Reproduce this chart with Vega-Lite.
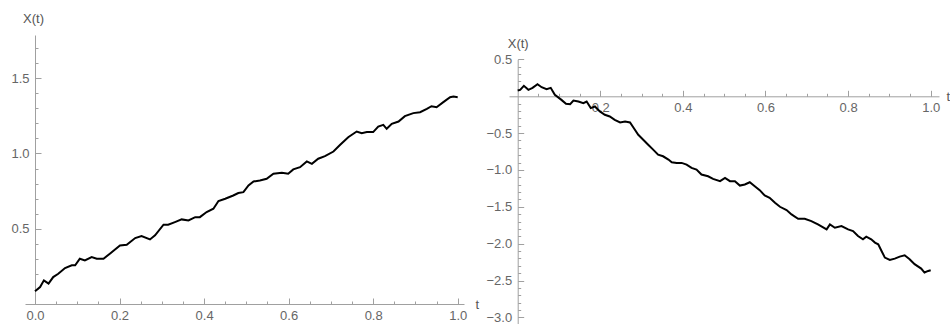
{
  "$schema": "https://vega.github.io/schema/vega-lite/v6.json",
  "padding": {"left": 10, "top": 12, "right": 0, "bottom": 0},
  "background": "white",
  "spacing": 7,
  "config": {
    "view": {"stroke": null},
    "axis": {"grid": false, "labelFont": "Liberation Sans", "labelFontSize": 13, "labelColor": "#666666", "titleFont": "Liberation Sans", "titleFontSize": 13, "titleFontWeight": "normal", "titleColor": "#555555", "domainColor": "#a0a0a0", "tickColor": "#a0a0a0", "labelOverlap": false, "labelFlush": false}
  },
  "datasets": {
    "left": [
      {"t": 0, "x": 0.084}, {"t": 0.012, "x": 0.113}, {"t": 0.021, "x": 0.157}, {"t": 0.032, "x": 0.135},
      {"t": 0.043, "x": 0.179}, {"t": 0.055, "x": 0.201}, {"t": 0.071, "x": 0.239}, {"t": 0.087, "x": 0.257},
      {"t": 0.095, "x": 0.257}, {"t": 0.106, "x": 0.301}, {"t": 0.118, "x": 0.29}, {"t": 0.134, "x": 0.312},
      {"t": 0.146, "x": 0.301}, {"t": 0.162, "x": 0.301}, {"t": 0.177, "x": 0.334}, {"t": 0.201, "x": 0.389},
      {"t": 0.217, "x": 0.394}, {"t": 0.237, "x": 0.438}, {"t": 0.252, "x": 0.451}, {"t": 0.272, "x": 0.429},
      {"t": 0.284, "x": 0.456}, {"t": 0.304, "x": 0.527}, {"t": 0.315, "x": 0.527}, {"t": 0.331, "x": 0.544},
      {"t": 0.347, "x": 0.562}, {"t": 0.363, "x": 0.555}, {"t": 0.379, "x": 0.577}, {"t": 0.39, "x": 0.577},
      {"t": 0.406, "x": 0.611}, {"t": 0.422, "x": 0.633}, {"t": 0.434, "x": 0.684}, {"t": 0.45, "x": 0.699},
      {"t": 0.469, "x": 0.721}, {"t": 0.481, "x": 0.737}, {"t": 0.493, "x": 0.743}, {"t": 0.505, "x": 0.788},
      {"t": 0.517, "x": 0.814}, {"t": 0.532, "x": 0.821}, {"t": 0.548, "x": 0.832}, {"t": 0.564, "x": 0.865},
      {"t": 0.584, "x": 0.872}, {"t": 0.599, "x": 0.865}, {"t": 0.611, "x": 0.894}, {"t": 0.627, "x": 0.909},
      {"t": 0.643, "x": 0.947}, {"t": 0.655, "x": 0.931}, {"t": 0.67, "x": 0.965}, {"t": 0.686, "x": 0.982},
      {"t": 0.706, "x": 1.013}, {"t": 0.722, "x": 1.058}, {"t": 0.741, "x": 1.108}, {"t": 0.761, "x": 1.146},
      {"t": 0.773, "x": 1.135}, {"t": 0.785, "x": 1.142}, {"t": 0.8, "x": 1.142}, {"t": 0.812, "x": 1.179},
      {"t": 0.824, "x": 1.19}, {"t": 0.832, "x": 1.164}, {"t": 0.844, "x": 1.197}, {"t": 0.86, "x": 1.212},
      {"t": 0.875, "x": 1.248}, {"t": 0.895, "x": 1.268}, {"t": 0.911, "x": 1.274}, {"t": 0.927, "x": 1.296},
      {"t": 0.938, "x": 1.314}, {"t": 0.95, "x": 1.307}, {"t": 0.966, "x": 1.341}, {"t": 0.982, "x": 1.374},
      {"t": 0.99, "x": 1.378}, {"t": 1.0, "x": 1.374}
    ],
    "right": [
      {"t": 0, "x": 0.077}, {"t": 0.006, "x": 0.086}, {"t": 0.015, "x": 0.14}, {"t": 0.026, "x": 0.086},
      {"t": 0.036, "x": 0.113}, {"t": 0.048, "x": 0.162}, {"t": 0.058, "x": 0.122}, {"t": 0.07, "x": 0.095},
      {"t": 0.08, "x": 0.113}, {"t": 0.09, "x": 0.018}, {"t": 0.106, "x": -0.05}, {"t": 0.117, "x": -0.104},
      {"t": 0.127, "x": -0.108}, {"t": 0.135, "x": -0.059}, {"t": 0.147, "x": -0.072}, {"t": 0.159, "x": -0.095},
      {"t": 0.167, "x": -0.072}, {"t": 0.177, "x": -0.162}, {"t": 0.187, "x": -0.14}, {"t": 0.199, "x": -0.207},
      {"t": 0.211, "x": -0.252}, {"t": 0.223, "x": -0.275}, {"t": 0.235, "x": -0.32}, {"t": 0.248, "x": -0.356},
      {"t": 0.26, "x": -0.342}, {"t": 0.272, "x": -0.356}, {"t": 0.281, "x": -0.432}, {"t": 0.292, "x": -0.523},
      {"t": 0.304, "x": -0.59}, {"t": 0.316, "x": -0.658}, {"t": 0.328, "x": -0.725}, {"t": 0.34, "x": -0.793},
      {"t": 0.352, "x": -0.815}, {"t": 0.365, "x": -0.86}, {"t": 0.373, "x": -0.896}, {"t": 0.385, "x": -0.905},
      {"t": 0.397, "x": -0.905}, {"t": 0.409, "x": -0.928}, {"t": 0.421, "x": -0.973}, {"t": 0.433, "x": -0.995},
      {"t": 0.445, "x": -1.063}, {"t": 0.461, "x": -1.086}, {"t": 0.473, "x": -1.122}, {"t": 0.49, "x": -1.153},
      {"t": 0.502, "x": -1.108}, {"t": 0.514, "x": -1.153}, {"t": 0.526, "x": -1.153}, {"t": 0.538, "x": -1.212},
      {"t": 0.55, "x": -1.198}, {"t": 0.562, "x": -1.167}, {"t": 0.574, "x": -1.221}, {"t": 0.586, "x": -1.275},
      {"t": 0.598, "x": -1.347}, {"t": 0.61, "x": -1.378}, {"t": 0.623, "x": -1.446}, {"t": 0.635, "x": -1.5},
      {"t": 0.651, "x": -1.545}, {"t": 0.663, "x": -1.604}, {"t": 0.679, "x": -1.662}, {"t": 0.695, "x": -1.662},
      {"t": 0.711, "x": -1.694}, {"t": 0.727, "x": -1.739}, {"t": 0.748, "x": -1.806}, {"t": 0.756, "x": -1.739},
      {"t": 0.768, "x": -1.784}, {"t": 0.784, "x": -1.761}, {"t": 0.8, "x": -1.806}, {"t": 0.812, "x": -1.829},
      {"t": 0.824, "x": -1.896}, {"t": 0.836, "x": -1.941}, {"t": 0.844, "x": -1.905}, {"t": 0.856, "x": -1.941},
      {"t": 0.865, "x": -1.986}, {"t": 0.873, "x": -2.009}, {"t": 0.881, "x": -2.099}, {"t": 0.889, "x": -2.189},
      {"t": 0.901, "x": -2.221}, {"t": 0.913, "x": -2.203}, {"t": 0.925, "x": -2.176}, {"t": 0.937, "x": -2.158},
      {"t": 0.949, "x": -2.212}, {"t": 0.961, "x": -2.279}, {"t": 0.977, "x": -2.338}, {"t": 0.985, "x": -2.392},
      {"t": 0.994, "x": -2.37}, {"t": 1.0, "x": -2.36}
    ]
  },
  "hconcat": [
    {
      "width": 439,
      "height": 269,
      "data": {"name": "left"},
      "mark": {"type": "line", "color": "black", "strokeWidth": 2},
      "encoding": {
        "x": {
          "field": "t", "type": "quantitative",
          "scale": {"domain": [-0.0237, 1.0149], "nice": false, "zero": false},
          "axis": {
            "orient": "bottom",
            "values": [0, 0.05, 0.1, 0.15, 0.2, 0.25, 0.3, 0.35, 0.4, 0.45, 0.5, 0.55, 0.6, 0.65, 0.7, 0.75, 0.8, 0.85, 0.9, 0.95, 1.0],
            "tickSize": {"condition": {"test": "abs(datum.value*5-round(datum.value*5))<0.001", "value": -6}, "value": -3},
            "labelExpr": "abs(datum.value*5-round(datum.value*5))<0.001 ? format(datum.value, '.1f') : ''",
            "labelPadding": 11,
            "title": "t", "titleX": 450, "titleY": 4, "titleAlign": "left", "titleBaseline": "alphabetic", "titleAngle": 0
          }
        },
        "y": {
          "field": "x", "type": "quantitative",
          "scale": {"domain": [0, 1.787], "nice": false, "zero": false},
          "axis": {
            "orient": "left",
            "offset": -10,
            "values": [0.1, 0.2, 0.3, 0.4, 0.5, 0.6, 0.7, 0.8, 0.9, 1.0, 1.1, 1.2, 1.3, 1.4, 1.5, 1.6, 1.7],
            "tickSize": {"condition": {"test": "abs(datum.value*2-round(datum.value*2))<0.001", "value": -6}, "value": -3},
            "labelExpr": "abs(datum.value*2-round(datum.value*2))<0.001 ? format(datum.value, '.1f') : ''",
            "labelPadding": 12,
            "title": "X(t)", "titleX": -2, "titleY": -13, "titleAlign": "center", "titleBaseline": "alphabetic", "titleAngle": 0
          }
        }
      }
    },
    {
      "width": 430,
      "height": 289,
      "data": {"name": "right"},
      "mark": {"type": "line", "color": "black", "strokeWidth": 2},
      "encoding": {
        "x": {
          "field": "t", "type": "quantitative",
          "scale": {"domain": [-0.021, 1.0201], "nice": false, "zero": false},
          "axis": {
            "orient": "bottom",
            "offset": -227.7,
            "values": [0.05, 0.1, 0.15, 0.2, 0.25, 0.3, 0.35, 0.4, 0.45, 0.5, 0.55, 0.6, 0.65, 0.7, 0.75, 0.8, 0.85, 0.9, 0.95, 1.0],
            "tickSize": {"condition": {"test": "abs(datum.value*5-round(datum.value*5))<0.001", "value": -6}, "value": -3},
            "labelExpr": "abs(datum.value*5-round(datum.value*5))<0.001 ? format(datum.value, '.1f') : ''",
            "labelPadding": 11,
            "title": "t", "titleX": 437, "titleY": 4, "titleAlign": "left", "titleBaseline": "alphabetic", "titleAngle": 0
          }
        },
        "y": {
          "field": "x", "type": "quantitative",
          "scale": {"domain": [-3.09, 0.83], "nice": false, "zero": false},
          "axis": {
            "orient": "left",
            "offset": -8.7,
            "domainDash": [264.7, 1000],
            "values": [0.5, 0.4, 0.3, 0.2, 0.1, -0.1, -0.2, -0.3, -0.4, -0.5, -0.6, -0.7, -0.8, -0.9, -1.0, -1.1, -1.2, -1.3, -1.4, -1.5, -1.6, -1.7, -1.8, -1.9, -2.0, -2.1, -2.2, -2.3, -2.4, -2.5, -2.6, -2.7, -2.8, -2.9, -3.0],
            "tickSize": {"condition": {"test": "abs(datum.value*2-round(datum.value*2))<0.001", "value": -6}, "value": -3},
            "labelExpr": "abs(datum.value*2-round(datum.value*2))<0.001 && abs(datum.value)>0.001 ? format(datum.value, '.1f') : ''",
            "labelPadding": 12,
            "title": "X(t)", "titleX": 0, "titleY": 12, "titleAlign": "center", "titleBaseline": "alphabetic", "titleAngle": 0
          }
        }
      }
    }
  ]
}
